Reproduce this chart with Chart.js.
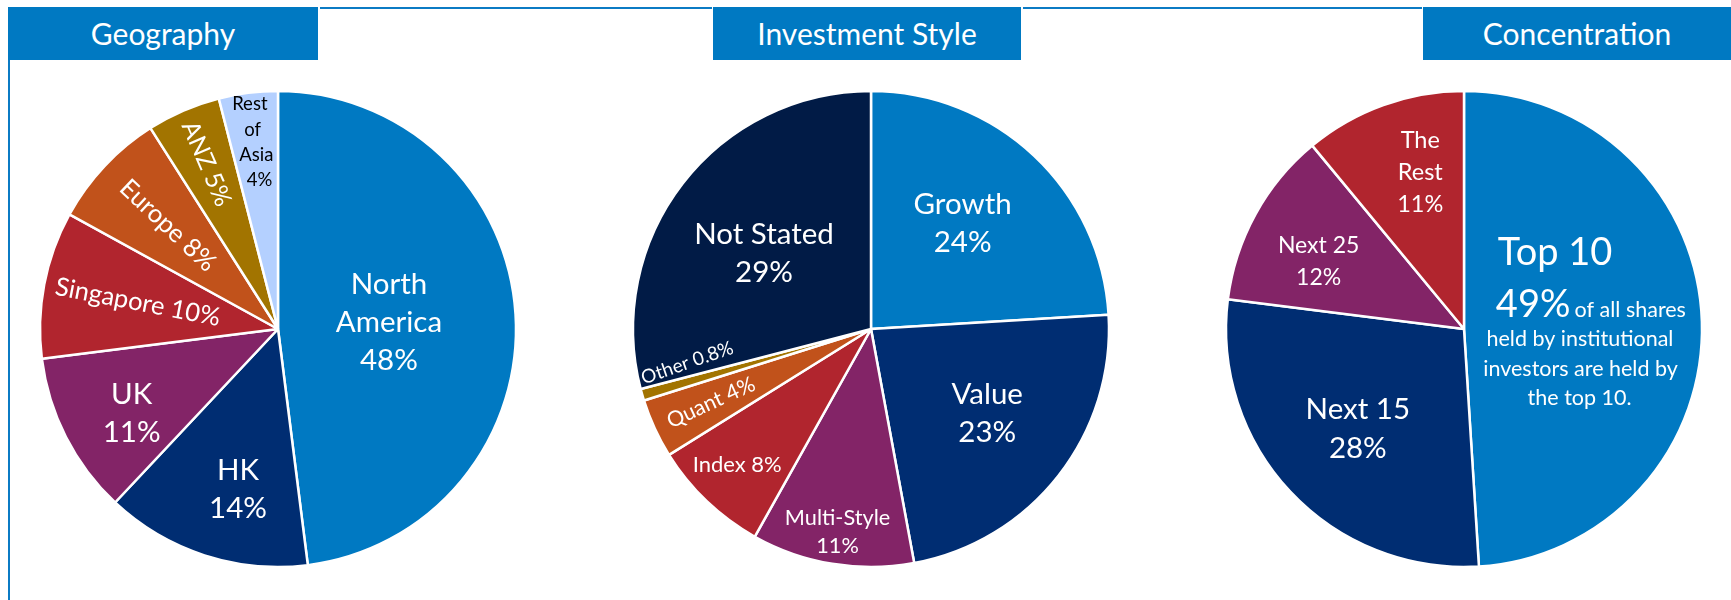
<!DOCTYPE html>
<html>
<head>
<meta charset="utf-8">
<script src="https://cdn.jsdelivr.net/npm/chart.js@4.4.0/dist/chart.umd.min.js"></script>
<style>
  body { margin: 0; background: #fff; width: 1731px; height: 600px; overflow: hidden; position: relative; font-family: Lato, sans-serif; }
  .box { position: absolute; top: 7px; height: 53px; background: #0079c2; color: #fff; font-size: 30px; line-height: 53px; text-align: center; }
  .hline { position: absolute; top: 7px; height: 2px; background: #0b7bc4; }
  .vline { position: absolute; left: 8px; top: 60px; width: 2px; height: 540px; background: #0b7bc4; }
  canvas { position: absolute; }
</style>
</head>
<body>
<div class="box" style="left:8px;width:310px">Geography</div>
<div class="hline" style="left:320px;width:392px"></div>
<div class="box" style="left:713px;width:308px">Investment Style</div>
<div class="hline" style="left:1023px;width:399px"></div>
<div class="box" style="left:1423px;width:308px">Concentration</div>
<div class="vline"></div>

<canvas id="geo" width="500" height="500" style="left:28px;top:79px"></canvas>
<canvas id="style" width="500" height="500" style="left:621px;top:79px"></canvas>
<canvas id="conc" width="500" height="500" style="left:1214px;top:79px"></canvas>

<script>
// data
const geoLabels = ["North America", "HK", "UK", "Singapore", "Europe", "ANZ", "Rest of Asia"];
const geoValues = [48, 14, 11, 10, 8, 5, 4];

const styleLabels = ["Growth", "Value", "Multi-Style", "Index", "Quant", "Other", "Not Stated"];
const styleValues = [24, 23, 11, 8, 4, 0.8, 29];

const concLabels = ["Top 10", "Next 15", "Next 25", "The Rest"];
const concValues = [49, 28, 12, 11];

const blue = "#0079c2", navy = "#002d72", purple = "#832467", red = "#b1252e",
      orange = "#c1521b", gold = "#a27400", pale = "#b4d0ff", ink = "#011b46";

const geoColors = [blue, navy, purple, red, orange, gold, pale];
const styleColors = [blue, navy, purple, red, orange, gold, ink];
const concColors = [blue, navy, purple, red];

function pct(v) { return v + "%"; }

// draws text inside each slice, anchored on the slice mid angle
function sliceText(items) {
  return {
    id: "sliceText",
    afterDatasetsDraw(chart) {
      const ctx = chart.ctx;
      const meta = chart.getDatasetMeta(0);
      items.forEach((it, i) => {
        if (!it) return;
        const arc = meta.data[i];
        const mid0 = (arc.startAngle + arc.endAngle) / 2;
        const mid = mid0 + (it.da || 0) * Math.PI / 180;
        const ax = arc.x + Math.cos(mid) * arc.outerRadius * it.r;
        const ay = arc.y + Math.sin(mid) * arc.outerRadius * it.r;
        ctx.save();
        ctx.translate(ax, ay);
        if (it.rot) ctx.rotate(mid0 - Math.PI + (it.dr || 0) * Math.PI / 180);
        ctx.fillStyle = it.color || "#fff";
        const n = it.lines.length;
        const lh = it.lh || it.size * 1.35;
        it.lines.forEach((ln, k) => {
          if (typeof ln === "string") ln = { t: ln };
          ctx.font = (ln.size || it.size) + "px Lato";
          ctx.textAlign = ln.align || "center";
          ctx.textBaseline = ln.base || "middle";
          const x = ln.dx != null ? ln.dx : 0;
          const y = ln.dy != null ? ln.dy : (k - (n - 1) / 2) * lh;
          ctx.fillText(ln.t, x, y);
        });
        ctx.restore();
      });
    }
  };
}

const geoText = [
  { r: 0.467, size: 29.5, lh: 38, lines: ["North", "America", pct(geoValues[0])] },
  { r: 0.694, da: -4, size: 29.5, lh: 37.5, lines: [geoLabels[1], pct(geoValues[1])] },
  { r: 0.71, da: -3, size: 29.5, lh: 38, lines: [geoLabels[2], pct(geoValues[2])] },
  { r: 0.60, rot: true, size: 25.5, lines: [geoLabels[3] + " " + pct(geoValues[3])] },
  { r: 0.635, rot: true, size: 25.5, lines: [geoLabels[4] + " " + pct(geoValues[4])] },
  { r: 0.757, rot: true, size: 24.5, lines: [geoLabels[5] + " " + pct(geoValues[5])] },
  { r: 0.79, size: 18.5, lh: 25.3, color: "#000", lines: [
      { t: "Rest", dx: -4.6, dy: -38 }, { t: "of", dx: -1.9, dy: -12.7 },
      { t: "Asia", dx: 1.9, dy: 12.7 }, { t: pct(geoValues[6]), dx: 5, dy: 38 }] }
];

const styleText = [
  { r: 0.587, da: -2.3, size: 29.5, lh: 38.4, lines: [styleLabels[0], pct(styleValues[0])] },
  { r: 0.604, da: -2, size: 29.5, lh: 37.6, lines: [styleLabels[1], pct(styleValues[1])] },
  { r: 0.863, size: 21.7, lh: 28, lines: [styleLabels[2], pct(styleValues[2])] },
  { r: 0.80, da: 1, size: 22, lines: [styleLabels[3] + " " + pct(styleValues[3])] },
  { r: 0.74, rot: true, size: 21.5, lines: [styleLabels[4] + " " + pct(styleValues[4])] },
  { r: 0.785, da: 5.6, rot: true, dr: -3, size: 19, lines: [styleLabels[5] + " " + pct(styleValues[5])] },
  { r: 0.55, da: -2.5, size: 29.5, lh: 37.2, lines: ["Not Stated", pct(styleValues[6])] }
];

const concText = [
  { r: 0.49, size: 21.5, lines: [
      { t: concLabels[0], size: 38, dx: -25.5, dy: -60, base: "alphabetic" },
      { t: pct(concValues[0]), size: 38, dx: -84.7, dy: -8.4, align: "left", base: "alphabetic" },
      { t: "of all shares", dx: -6, dy: -8.4, align: "left", base: "alphabetic" },
      { t: "held by institutional", dx: -0.6, dy: 21, base: "alphabetic" },
      { t: "investors are held by", dx: 0, dy: 50.9, base: "alphabetic" },
      { t: "the top 10.", dx: -1, dy: 79.7, base: "alphabetic" }] },
  { r: 0.612, size: 29.5, lh: 38.7, lines: [concLabels[1], pct(concValues[1])] },
  { r: 0.674, da: -3.8, size: 23, lh: 32, lines: [concLabels[2], pct(concValues[2])] },
  { r: 0.683, da: 4.2, size: 23.5, lh: 32, lines: ["The", "Rest", pct(concValues[3])] }
];

function makePie(id, labels, values, colors, text) {
  new Chart(document.getElementById(id), {
    type: "pie",
    data: {
      labels: labels,
      datasets: [{
        data: values,
        backgroundColor: colors,
        borderColor: "#fff",
        borderWidth: 2.5
      }]
    },
    options: {
      responsive: false,
      animation: false,
      radius: 238,
      plugins: { legend: { display: false }, tooltip: { enabled: false } }
    },
    plugins: [sliceText(text)]
  });
}

makePie("geo", geoLabels, geoValues, geoColors, geoText);
makePie("style", styleLabels, styleValues, styleColors, styleText);
makePie("conc", concLabels, concValues, concColors, concText);
</script>
</body>
</html>
